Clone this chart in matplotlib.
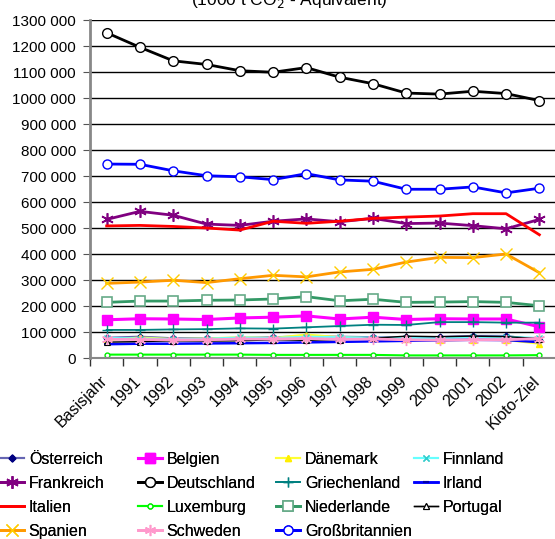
import matplotlib.pyplot as plt
import matplotlib.ticker as mticker
import matplotlib.transforms as mtransforms
import numpy as np

plt.rcParams['font.family'] = ['Liberation Sans', 'DejaVu Sans']

jahre = ["Basisjahr", "1991", "1992", "1993", "1994", "1995", "1996", "1997",
         "1998", "1999", "2000", "2001", "2002", "Kioto-Ziel"]

# 1000 t CO2-Aequivalent
oesterreich = [78, 82, 76, 76, 77, 80, 83, 82, 80, 79, 81, 85, 85, 68]
belgien = [147, 151, 150, 148, 154, 157, 162, 150, 157, 148, 151, 150, 150, 120]
daenemark = [69, 79, 73, 75, 80, 77, 90, 80, 76, 74, 68, 70, 69, 55]
finnland = [77, 75, 73, 74, 79, 77, 82, 80, 78, 77, 75, 80, 82, 77]
frankreich = [533, 564, 549, 515, 510, 526, 535, 524, 537, 517, 519, 509, 497, 533]
deutschland = [1251, 1195, 1143, 1129, 1105, 1099, 1117, 1080, 1055, 1019, 1015, 1026, 1017, 990]
griechenland = [108, 108, 110, 111, 114, 113, 118, 123, 128, 127, 138, 138, 136, 136]
irland = [53, 55, 55, 56, 57, 58, 60, 62, 64, 66, 68, 70, 69, 61]
italien = [508, 510, 506, 500, 492, 526, 518, 526, 537, 542, 546, 555, 555, 474]
luxemburg = [13, 13, 13, 13, 13, 12, 12, 12, 12, 10, 10, 10, 10, 11]
niederlande = [214, 219, 219, 222, 223, 227, 236, 220, 226, 214, 215, 217, 214, 201]
portugal = [61, 63, 66, 65, 66, 70, 68, 71, 76, 84, 82, 84, 82, 75]
spanien = [287, 292, 299, 290, 305, 318, 312, 331, 341, 369, 387, 386, 400, 328]
schweden = [72, 71, 70, 70, 73, 73, 75, 72, 73, 70, 69, 70, 70, 75]
grossbritannien = [746, 745, 720, 701, 697, 686, 709, 685, 680, 649, 649, 658, 635, 653]

asterisk = (6, 2, 0)
serien = [
    ("Österreich", oesterreich, dict(color='#6666b3', lw=1.5, marker='D', ms=3.5, mfc='#000080', mec='#000080')),
    ("Belgien", belgien, dict(color='#ff00ff', lw=2.2, marker='s', ms=7, mfc='#ff00ff', mec='#ff00ff')),
    ("Dänemark", daenemark, dict(color='#ffff33', lw=1.5, marker='^', ms=5, mfc='#ffee00', mec='#ffee00')),
    ("Finnland", finnland, dict(color='#66ffff', lw=1.5, marker='x', ms=5, mec='#33cccc', mew=1)),
    ("Frankreich", frankreich, dict(color='#800080', lw=2, marker=asterisk, ms=9, mec='#800080', mew=1.2)),
    ("Deutschland", deutschland, dict(color='black', lw=2, marker='o', ms=7, mfc='white', mec='black', mew=1)),
    ("Griechenland", griechenland, dict(color='#008080', lw=1.3, marker='+', ms=7, mec='#008080', mew=1)),
    ("Irland", irland, dict(color='#0000ff', lw=1.8, marker='_', ms=4, mec='#0000aa', mew=1.5)),
    ("Italien", italien, dict(color='#ff0000', lw=2)),
    ("Luxemburg", luxemburg, dict(color='#00ff00', lw=1.5, marker='o', ms=3.5, mfc='white', mec='#00ee00', mew=1)),
    ("Niederlande", niederlande, dict(color='#339966', lw=2, marker='s', ms=7, mfc='white', mec='#66aa88', mew=1.2)),
    ("Portugal", portugal, dict(color='black', lw=1, marker='^', ms=4, mfc='white', mec='black', mew=0.8)),
    ("Spanien", spanien, dict(color='#ff9900', lw=2, marker='x', ms=8, mec='#ffcc00', mew=1)),
    ("Schweden", schweden, dict(color='#ff99cc', lw=2, marker=asterisk, ms=8, mec='#ff99cc', mew=1)),
    ("Großbritannien", grossbritannien, dict(color='#0000ff', lw=2, marker='o', ms=6.5, mfc='white', mec='#0000ff', mew=1)),
]

fig = plt.figure(figsize=(5.55, 5.39), dpi=100)
ax = fig.add_axes([90 / 555, 1 - 358 / 539, 466 / 555, 338 / 539])

x = np.arange(len(jahre))
handles = []
for name, werte, stil in serien:
    h, = ax.plot(x, np.array(werte) * 1000, label=name, clip_on=False, **stil)
    handles.append(h)


def tausend(v, p):
    v = int(round(v))
    if v == 0:
        return "0"
    return f"{v // 1000} {v % 1000:03d}"


ax.set_xlim(-0.5, len(jahre) - 0.5)
ax.set_ylim(0, 1300000)
ax.yaxis.set_major_locator(mticker.MultipleLocator(100000))
ax.yaxis.set_major_formatter(mticker.FuncFormatter(tausend))
ax.tick_params(axis='y', labelsize=11, length=5, color='#555555', pad=5)
ax.grid(axis='y', color='black', lw=1)
ax.set_axisbelow(True)
ax.get_ygridlines()[-1].set_color('#dddddd')

ax.set_xticks(x)
ax.set_xticklabels(jahre, rotation=45, ha='right', rotation_mode='anchor', fontsize=11.5)
ax.set_xticks(np.arange(len(jahre) + 1) - 0.5, minor=True)
ax.tick_params(axis='x', which='major', length=0, pad=11)
ax.tick_params(axis='x', which='minor', length=6, color='#333333', width=1)
versatz = mtransforms.ScaledTranslation(-7 / 100, 0, fig.dpi_scale_trans)
for lab in ax.get_xticklabels():
    lab.set_transform(lab.get_transform() + versatz)

for s in ['top', 'right']:
    ax.spines[s].set_visible(False)
ax.spines['left'].set_color('#888888')
ax.spines['left'].set_linewidth(2)
ax.spines['bottom'].set_color('#888888')
ax.spines['bottom'].set_linewidth(1.5)

fig.text(289 / 555, 1 - 5 / 539, "(1000 t CO$_2$ - Äquivalent)", ha='center',
         va='baseline', fontsize=12.5)

# Legende: vier Spalten, zeilenweise gefuellt
for j in range(4):
    hs = handles[j::4]
    leg = fig.legend(handles=hs, labels=[h.get_label() for h in hs],
                     loc='upper left', bbox_to_anchor=(j * 138 / 555, 1 - 452 / 539),
                     frameon=False, fontsize=11.5, handlelength=1.5,
                     handletextpad=0.3, labelspacing=0.56, borderpad=0,
                     borderaxespad=0)
    fig.add_artist(leg)

fig.savefig("out.png", dpi=100)
